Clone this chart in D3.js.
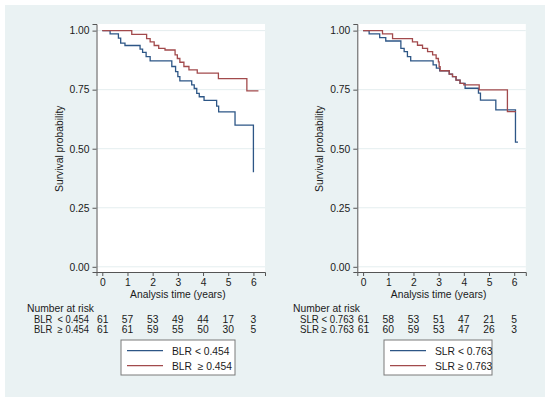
<!DOCTYPE html>
<html>
<head>
<meta charset="utf-8">
<script src="https://cdn.jsdelivr.net/npm/d3@7"></script>
<style>
  body { margin: 0; background: #fff; }
  svg text { font-family: "Liberation Sans", Arial, sans-serif; fill: #1a1a1a; white-space: pre; }
</style>
</head>
<body>
<svg id="chart" width="550" height="403"></svg>
<script>
// ---- data ----
const yTicks = [0, 0.25, 0.5, 0.75, 1];
const xTicks = [0, 1, 2, 3, 4, 5, 6];

// left panel: BLR
const blrLowTime = [0, 0.31, 0.64, 0.73, 0.90, 1.50, 1.60, 1.74, 1.90, 2.76, 2.91, 3.00, 3.08, 3.55, 3.65, 3.75, 3.85, 4.04, 4.54, 4.62, 5.27, 6.0];
const blrLowSurv = [1, 0.986, 0.968, 0.947, 0.937, 0.922, 0.908, 0.89, 0.872, 0.848, 0.826, 0.805, 0.787, 0.77, 0.755, 0.734, 0.72, 0.705, 0.68, 0.656, 0.60, 0.40];
const blrHighTime = [0, 1.17, 1.76, 1.90, 2.06, 2.24, 2.49, 2.89, 2.98, 3.08, 3.24, 3.44, 3.77, 4.61, 5.74, 6.2];
const blrHighSurv = [1, 0.984, 0.966, 0.952, 0.937, 0.925, 0.918, 0.897, 0.882, 0.866, 0.848, 0.834, 0.82, 0.797, 0.745, 0.745];
const blrRiskLow = [61, 57, 53, 49, 44, 17, 3];
const blrRiskHigh = [61, 61, 59, 55, 50, 30, 5];

// right panel: SLR
const slrLowTime = [0, 0.24, 0.66, 0.90, 1.50, 1.63, 1.76, 1.89, 2.78, 2.91, 3.04, 3.42, 3.55, 3.69, 3.85, 4.05, 4.58, 4.66, 5.27, 6.05, 6.15];
const slrLowSurv = [1, 0.986, 0.97, 0.956, 0.925, 0.911, 0.89, 0.872, 0.855, 0.841, 0.83, 0.816, 0.805, 0.79, 0.777, 0.756, 0.735, 0.706, 0.664, 0.528, 0.528];
const slrHighTime = [0, 0.77, 1.17, 1.96, 2.16, 2.36, 2.56, 2.76, 2.90, 2.99, 3.02, 3.06, 3.42, 3.55, 3.69, 3.85, 4.0, 4.61, 5.73, 6.07];
const slrHighSurv = [1, 0.986, 0.966, 0.952, 0.938, 0.925, 0.911, 0.897, 0.882, 0.868, 0.847, 0.83, 0.816, 0.805, 0.79, 0.777, 0.77, 0.749, 0.657, 0.657];
const slrRiskLow = [61, 58, 53, 51, 47, 21, 5];
const slrRiskHigh = [61, 60, 59, 53, 47, 26, 3];

const blueCol = "#2d5686";
const redCol = "#a24a4c";

const svg = d3.select("#chart");

// light Stata-style graph region
svg.append("rect")
    .attr("x", 5).attr("y", 5)
    .attr("width", 540).attr("height", 392)
    .attr("fill", "#eaf2f3");

function zip(t, s) { return t.map((d, i) => ({t: d, s: s[i]})); }

function drawPanel(p) {
    var x = d3.scaleLinear().domain([-0.23, 6.46]).range([p.left, p.left + 168.5]);
    var y = d3.scaleLinear().domain([-0.022, 1.028]).range([272, 24]);

    var g = svg.append("g");

    // plot region
    g.append("rect")
        .attr("x", x.range()[0]).attr("y", 24)
        .attr("width", x.range()[1] - x.range()[0]).attr("height", 248)
        .attr("fill", "#fff");

    // gridlines
    g.selectAll(".grid")
        .data(yTicks)
        .enter()
        .append("line")
        .attr("x1", x.range()[0]).attr("x2", x.range()[1])
        .attr("y1", d => y(d)).attr("y2", d => y(d))
        .attr("stroke", "#e4eeef").attr("stroke-width", 1);

    // y axis
    var ya = g.append("g")
        .attr("transform", "translate(" + x.range()[0] + ",0)")
        .call(d3.axisLeft(y).tickValues(yTicks).tickFormat(d3.format(".2f")).tickSizeOuter(0).tickSize(4).tickPadding(3));
    ya.select(".domain").attr("stroke", "#555");
    ya.selectAll(".tick line").attr("stroke", "#555");
    ya.selectAll("text").style("font-size", "10.3px").attr("fill", "#1a1a1a");

    // x axis
    var xa = g.append("g")
        .attr("transform", "translate(0,272)")
        .call(d3.axisBottom(x).tickValues(xTicks).tickFormat(d3.format("d")).tickSizeOuter(0).tickSize(4).tickPadding(3));
    xa.select(".domain").attr("stroke", "#555");
    xa.selectAll(".tick line").attr("stroke", "#555");
    xa.selectAll("text").style("font-size", "10.3px").attr("fill", "#1a1a1a");

    g.append("text")
        .attr("x", (x(0) + x(6)) / 2).attr("y", 298)
        .attr("text-anchor", "middle")
        .style("font-size", "10.3px")
        .text("Analysis time (years)");

    g.append("text")
        .attr("transform", "translate(" + (p.left - 34) + "," + y(0.5) + ") rotate(-90)")
        .attr("text-anchor", "middle")
        .style("font-size", "10.3px")
        .text("Survival probability");

    // survival curves
    var line = d3.line()
        .x(d => x(d.t)).y(d => y(d.s))
        .curve(d3.curveStepAfter);

    p.curves.forEach(function(c) {
        g.append("path")
            .datum(zip(c.time, c.surv))
            .attr("d", line)
            .attr("fill", "none")
            .attr("stroke", c.color)
            .attr("stroke-width", 1.3);
    });

    // number at risk table
    g.append("text")
        .attr("x", p.tableLeft - 7).attr("y", 311.5)
        .style("font-size", "10.3px")
        .text("Number at risk");

    p.risk.forEach(function(r, i) {
        var by = 322.5 + i * 10;
        g.append("text")
            .attr("x", p.tableLeft).attr("y", by)
            .attr("textLength", p.labelLen)
            .attr("lengthAdjust", "spacingAndGlyphs")
            .style("font-size", "10.3px")
            .text(r.label);
        g.selectAll(".risk" + i)
            .data(r.values)
            .enter()
            .append("text")
            .attr("x", (d, j) => x(xTicks[j]) + (j == 0 ? 0.5 : 0))
            .attr("y", by)
            .attr("text-anchor", "middle")
            .style("font-size", "10.3px")
            .text(d => d);
    });

    // legend
    var lg = g.append("g").attr("transform", "translate(" + p.legendX + ",340)");
    lg.append("rect")
        .attr("width", p.legendW).attr("height", 35)
        .attr("fill", "#fff").attr("stroke", "#7a7a7a").attr("stroke-width", 1);
    p.curves.forEach(function(c, i) {
        lg.append("line")
            .attr("x1", 6).attr("x2", 42)
            .attr("y1", 10.7 + i * 15).attr("y2", 10.7 + i * 15)
            .attr("stroke", c.color).attr("stroke-width", 1.3);
        lg.append("text")
            .attr("x", p.legendTextX).attr("y", 14.5 + i * 15)
            .style("font-size", "10.3px")
            .text(c.legend);
    });
}

drawPanel({
    left: 96.5,
    tableLeft: 34,
    labelLen: 55,
    legendX: 121, legendW: 114, legendTextX: 51,
    curves: [
        {time: blrLowTime, surv: blrLowSurv, color: blueCol, legend: "BLR < 0.454"},
        {time: blrHighTime, surv: blrHighSurv, color: redCol, legend: "BLR  \u2265 0.454"}
    ],
    risk: [
        {label: "BLR  < 0.454", values: blrRiskLow},
        {label: "BLR  \u2265 0.454", values: blrRiskHigh}
    ]
});

drawPanel({
    left: 357.3,
    tableLeft: 300,
    labelLen: 54,
    legendX: 384, legendW: 108, legendTextX: 51,
    curves: [
        {time: slrLowTime, surv: slrLowSurv, color: blueCol, legend: "SLR < 0.763"},
        {time: slrHighTime, surv: slrHighSurv, color: redCol, legend: "SLR \u2265 0.763"}
    ],
    risk: [
        {label: "SLR < 0.763", values: slrRiskLow},
        {label: "SLR \u2265 0.763", values: slrRiskHigh}
    ]
});
</script>
</body>
</html>
